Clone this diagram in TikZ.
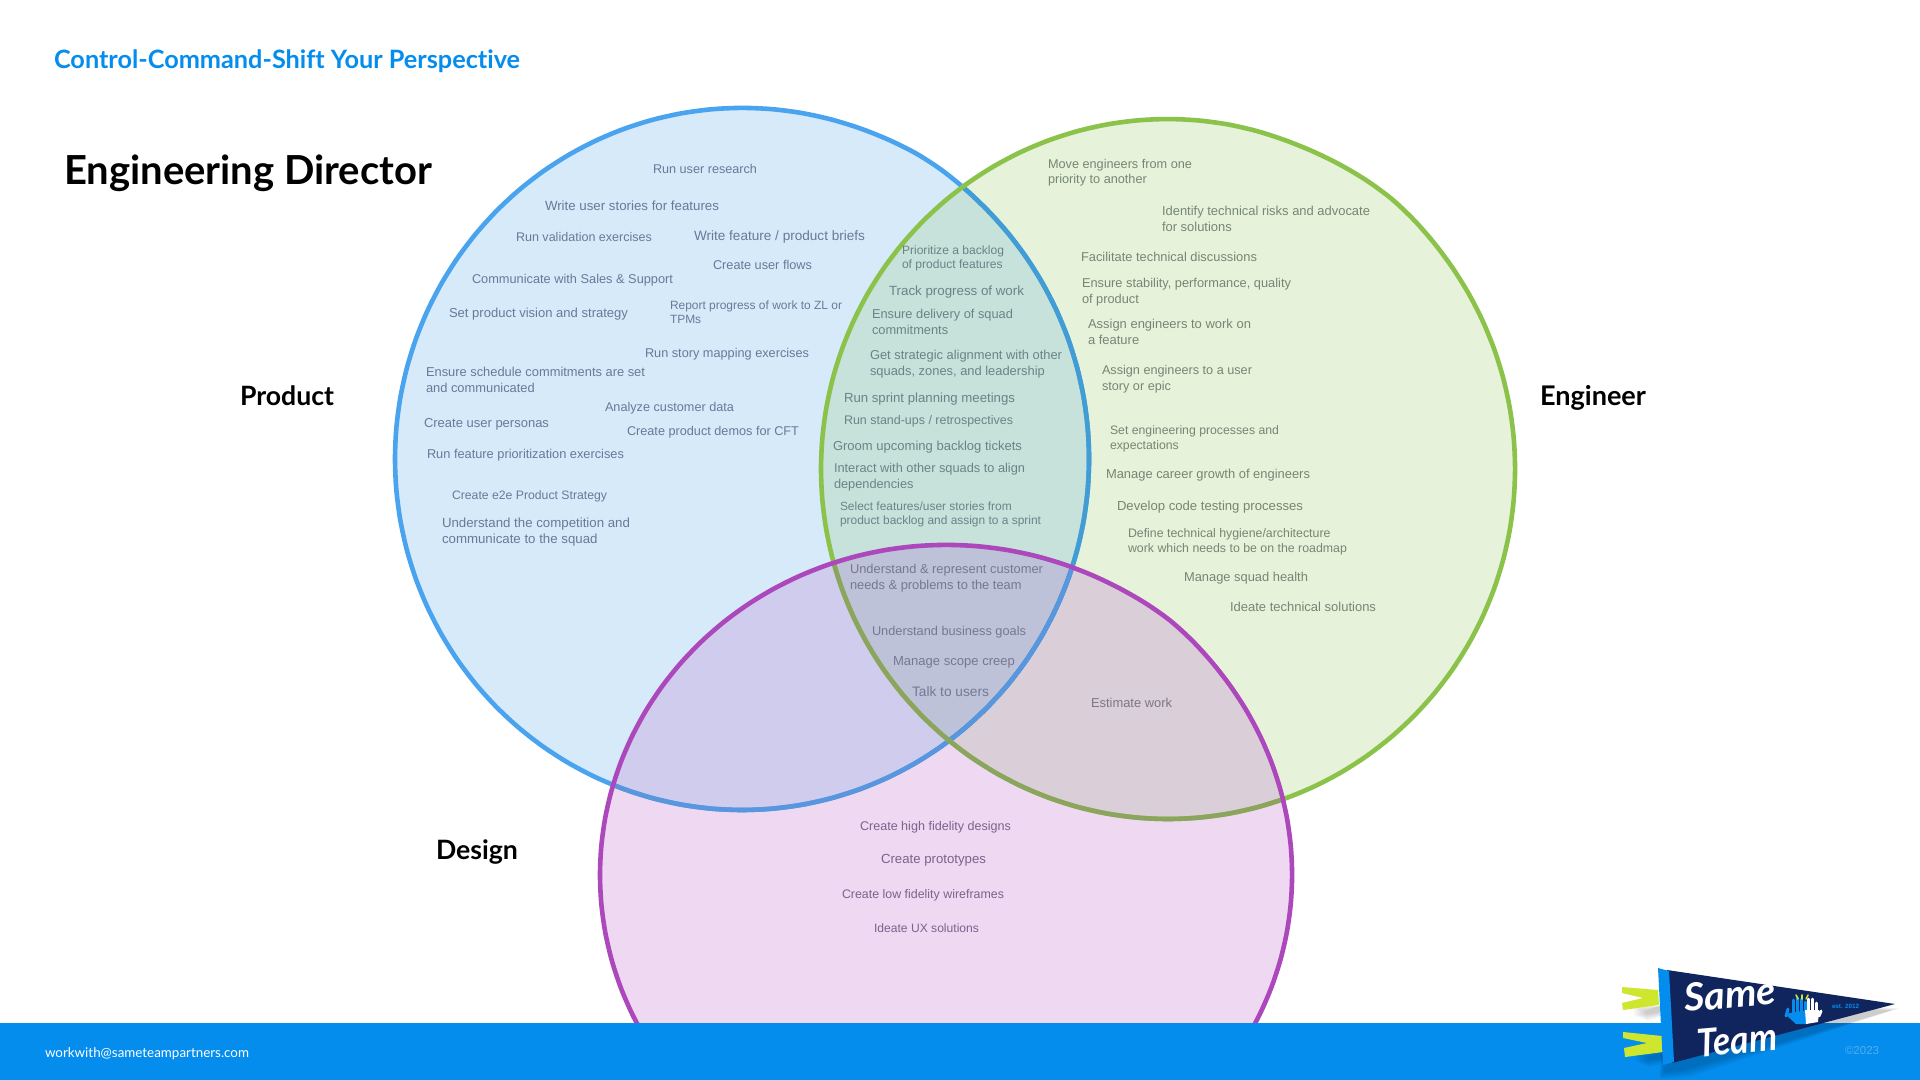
\documentclass[tikz,border=0pt]{standalone}
\usepackage{fontspec}
\usepackage{graphicx}
\setmainfont{Liberation Sans}
\newfontfamily\headfont[Ligatures=NoCommon]{Lato}
\newdimen\pxu \pxu=0.5pt
\newcommand{\fitw}[2]{\resizebox{#1\pxu}{!}{\begin{tabular}{@{}l@{}}#2\end{tabular}}}
\definecolor{bluefill}{RGB}{214,234,250}
\definecolor{greenfill}{RGB}{230,242,217}
\definecolor{purplefill}{RGB}{239,216,241}
\definecolor{bgfill}{RGB}{198,226,218}
\definecolor{bpfill}{RGB}{207,204,238}
\definecolor{gpfill}{RGB}{218,207,216}
\definecolor{corefill}{RGB}{190,194,216}
\definecolor{blueline}{RGB}{74,163,238}
\definecolor{bluegreenline}{RGB}{66,157,212}
\definecolor{bluepurpleline}{RGB}{90,150,222}
\definecolor{greenline}{RGB}{139,194,74}
\definecolor{greenpurpleline}{RGB}{140,165,94}
\definecolor{purpleline}{RGB}{172,72,188}
\definecolor{footerblue}{RGB}{5,141,238}
\definecolor{navy}{RGB}{16,36,94}
\definecolor{lime}{RGB}{207,230,46}
\definecolor{tblue}{RGB}{104,122,152}
\definecolor{tlens}{RGB}{104,132,136}
\definecolor{tcore}{RGB}{116,120,148}
\definecolor{tgreen}{RGB}{118,134,118}
\definecolor{tpurple}{RGB}{120,100,142}
\definecolor{tmix}{RGB}{124,118,132}
\pgfmathdeclarefunction{bmp}{3}{\pgfmathparse{1/(1+((#1-#2)/#3)^2)}}
\def\bluering{plot[smooth cycle,domain=-180:175,samples=72,variable=\t]
  ({742+347*cos(\t)*(1+0.005*bmp(\t,-58,8))},{459+351*sin(\t)*(1+0.005*bmp(\t,-58,8))})}
\def\greenring{plot[smooth cycle,domain=-180:175,samples=72,variable=\t]
  ({1168+347*cos(\t)*(1+0.006*bmp(\t,-50,9)-0.003*bmp(\t,-68,9))},{469+350*sin(\t)*(1+0.006*bmp(\t,-50,9)-0.003*bmp(\t,-68,9))})}
\def\purplering{plot[smooth cycle,domain=-180:175,samples=72,variable=\t]
  ({946+346*cos(\t)*(1+0.007*bmp(\t,-50,9))},{875+330*sin(\t)*(1+0.007*bmp(\t,-50,9))})}
\tikzset{
  lab/.style={anchor=west,inner sep=0pt,outer sep=0pt},
  txt/.style={lab,yshift=-0.7pt},
  inblue/.style={txt,text=tblue},
  inlens/.style={txt,text=tlens},
  incore/.style={txt,text=tcore},
  ingreen/.style={txt,text=tgreen},
  inpurple/.style={txt,text=tpurple},
  inmix/.style={txt,text=tmix},
  head/.style={lab,text=black,font=\headfont\bfseries},
  ring/.style={line width=2.3pt},
  shade/.style={fill=black,fill opacity=0.02,draw=none}
}
\begin{document}
\begin{tikzpicture}[x=0.5pt,y=-0.5pt]
\useasboundingbox (0,0) rectangle (1920,1080);
\fill[white] (0,0) rectangle (1920,1080);
% region fills
\fill[bluefill] \bluering;
\fill[greenfill] \greenring;
\fill[purplefill] \purplering;
\begin{scope}\clip \bluering; \fill[bgfill] \greenring; \end{scope}
\begin{scope}\clip \bluering; \fill[bpfill] \purplering; \end{scope}
\begin{scope}\clip \greenring; \fill[gpfill] \purplering; \end{scope}
\begin{scope}\clip \bluering; \clip \greenring; \fill[corefill] \purplering; \end{scope}
% outlines
\draw[ring,blueline] \bluering;
\begin{scope}\clip \greenring; \draw[ring,bluegreenline] \bluering; \end{scope}
\begin{scope}\clip \purplering; \draw[ring,bluepurpleline] \bluering; \end{scope}
\draw[ring,greenline] \greenring;
\begin{scope}\clip \purplering; \draw[ring,greenpurpleline] \greenring; \end{scope}
\draw[ring,purpleline] \purplering;
% footer
\fill[footerblue] (0,1023) rectangle (1920,1080);
% titles
\node[head,text=footerblue] (title) at (54,62.5) {\fitw{466}{Control-Command-Shift Your Perspective}};
\node[head] (role) at (64,175) {\fitw{368}{Engineering Director}};
\node[head] (product) at (240,399.5) {\fitw{94}{Product}};
\node[head] (engineer) at (1540,399.5) {\fitw{106}{Engineer}};
\node[head] (design) at (436,853.5) {\fitw{82}{Design}};
% product
\node[inblue] (p1) at (653,169) {\fitw{104}{Run user research}};
\node[inblue] (p2) at (545,206) {\fitw{174}{Write user stories for features}};
\node[inblue] (p3) at (516,237) {\fitw{136}{Run validation exercises}};
\node[inblue] (p4) at (694,236) {\fitw{171}{Write feature / product briefs}};
\node[inblue] (p5) at (713,265) {\fitw{99}{Create user flows}};
\node[inblue] (p6) at (472,279) {\fitw{201}{Communicate with Sales \& Support}};
\node[inblue] (p7) at (449,313) {\fitw{179}{Set product vision and strategy}};
\node[inblue] (p8) at (670,312) {\fitw{172}{Report progress of work to ZL or\\TPMs}};
\node[inblue] (p9) at (645,353) {\fitw{164}{Run story mapping exercises}};
\node[inblue] (p10) at (426,380) {\fitw{219}{Ensure schedule commitments are set\\and communicated}};
\node[inblue] (p11) at (605,407) {\fitw{129}{Analyze customer data}};
\node[inblue] (p12) at (424,423) {\fitw{125}{Create user personas}};
\node[inblue] (p13) at (627,431) {\fitw{172}{Create product demos for CFT}};
\node[inblue] (p14) at (427,454) {\fitw{197}{Run feature prioritization exercises}};
\node[inblue] (p15) at (452,495) {\fitw{155}{Create e2e Product Strategy}};
\node[inblue] (p16) at (442,531) {\fitw{188}{Understand the competition and\\communicate to the squad}};
% product and engineer
\node[inlens] (l1) at (902,257) {\fitw{102}{Prioritize a backlog\\of product features}};
\node[inlens] (l2) at (889,291) {\fitw{135}{Track progress of work}};
\node[inlens] (l3) at (872,322) {\fitw{141}{Ensure delivery of squad\\commitments}};
\node[inlens] (l4) at (870,363) {\fitw{192}{Get strategic alignment with other\\squads, zones, and leadership}};
\node[inlens] (l5) at (844,398) {\fitw{171}{Run sprint planning meetings}};
\node[inlens] (l6) at (844,420) {\fitw{169}{Run stand-ups / retrospectives}};
\node[inlens] (l7) at (833,446) {\fitw{189}{Groom upcoming backlog tickets}};
\node[inlens] (l8) at (834,476) {\fitw{191}{Interact with other squads to align\\dependencies}};
\node[inlens] (l9) at (840,513) {\fitw{201}{Select features/user stories from\\product backlog and assign to a sprint}};
% centre
\node[incore] (c1) at (850,577) {\fitw{193}{Understand \& represent customer\\needs \& problems to the team}};
\node[incore] (c2) at (872,631) {\fitw{154}{Understand business goals}};
\node[incore] (c3) at (893,661) {\fitw{122}{Manage scope creep}};
\node[incore] (c4) at (912,692) {\fitw{77}{Talk to users}};
\node[inmix] (m1) at (1091,703) {\fitw{81}{Estimate work}};
% engineer
\node[ingreen] (e1) at (1048,171.5) {\fitw{144}{Move engineers from one\\priority to another}};
\node[ingreen] (e2) at (1162,219) {\fitw{208}{Identify technical risks and advocate\\for solutions}};
\node[ingreen] (e3) at (1081,257) {\fitw{176}{Facilitate technical discussions}};
\node[ingreen] (e4) at (1082,291) {\fitw{209}{Ensure stability, performance, quality\\of product}};
\node[ingreen] (e5) at (1088,332) {\fitw{163}{Assign engineers to work on\\a feature}};
\node[ingreen] (e6) at (1102,378) {\fitw{150}{Assign engineers to a user\\story or epic}};
\node[ingreen] (e7) at (1110,438) {\fitw{169}{Set engineering processes and\\expectations}};
\node[ingreen] (e8) at (1106,474) {\fitw{204}{Manage career growth of engineers}};
\node[ingreen] (e9) at (1117,506) {\fitw{186}{Develop code testing processes}};
\node[ingreen] (e10) at (1128,541) {\fitw{219}{Define technical hygiene/architecture\\work which needs to be on the roadmap}};
\node[ingreen] (e11) at (1184,577) {\fitw{124}{Manage squad health}};
\node[ingreen] (e12) at (1230,607) {\fitw{146}{Ideate technical solutions}};
% design
\node[inpurple] (d1) at (860,826) {\fitw{151}{Create high fidelity designs}};
\node[inpurple] (d2) at (881,859) {\fitw{105}{Create prototypes}};
\node[inpurple] (d3) at (842,894) {\fitw{162}{Create low fidelity wireframes}};
\node[inpurple] (d4) at (874,928) {\fitw{105}{Ideate UX solutions}};
% footer texts
\node[lab,text=white,font=\headfont] (mail) at (45,1054) {\fitw{204}{workwith@sameteampartners.com}};
\node[lab,text=white,opacity=0.3] (copy) at (1845,1052) {\fitw{34}{©2023}};
% pennant shadow
\foreach \d in {0,...,9}{
  \fill[shade] (1664,1000) -- (1900-\d,1008+\d*0.3) -- (1682+\d,1070+\d*0.8) -- (1664-\d*0.5,1072+\d*0.8) -- cycle;
  \fill[shade] (1632+\d*1.5,1006+\d*0.6) -- (1660,1006) -- (1660,1012+\d*0.6) -- (1634+\d*1.5,1016+\d*0.6) -- cycle;
  \fill[shade] (1634+\d*1.5,1052+\d*0.6) -- (1664,1052) -- (1664,1058+\d*0.6) -- (1636+\d*1.5,1062+\d*0.6) -- cycle;
}
% ribbons
\fill[lime] (1622,987) -- (1658,990) -- (1659,1005) -- (1623,1010) -- (1622,1003) -- (1643,998) -- (1622,993) -- cycle;
\fill[lime] (1623,1032) -- (1662,1036) -- (1663,1052) -- (1625,1057) -- (1624,1048) -- (1647,1043) -- (1623,1038) -- cycle;
% pennant
\fill[navy] (1667,970) -- (1895,1004) -- (1672,1063) -- cycle;
\fill[footerblue] (1658,968) -- (1669,971) -- (1674,1062) -- (1663,1065) -- cycle;
\node[inner sep=0pt,text=white,rotate=5,font=\headfont\bfseries\itshape] (same) at (1730,994) {\resizebox{92\pxu}{28\pxu}{Same}};
\node[inner sep=0pt,text=white,rotate=5,font=\headfont\bfseries\itshape] (team) at (1737,1040) {\resizebox{80\pxu}{28\pxu}{Team}};
% hands
\begin{scope}[line cap=round,line width=1.5pt]
  \draw[footerblue] (1788,1009) -- (1786,1016);
  \draw[footerblue] (1793,1000) -- (1793,1014);
  \draw[footerblue] (1797,998) -- (1797,1014);
  \draw[footerblue] (1801,999) -- (1801,1014);
  \draw[footerblue] (1805,1002) -- (1805,1014);
  \fill[footerblue] (1785,1014) -- (1807,1010) -- (1807,1024) -- (1796,1024) -- cycle;
  \draw[white] (1808,999) -- (1808,1012);
  \draw[white] (1812,999) -- (1812,1012);
  \draw[white] (1816,1003) -- (1816,1012);
  \draw[white] (1821,1011) -- (1819,1016);
  \fill[white] (1805,1010) -- (1819,1010) -- (1818,1022) -- (1806,1024) -- cycle;
  \draw[lime,line width=0.8pt] (1796,995) -- (1798,999);
  \draw[lime,line width=0.8pt] (1802,995) -- (1802,999);
  \draw[lime,line width=0.8pt] (1808,995) -- (1806,999);
\end{scope}
\node[lab,text=footerblue,rotate=-1,font=\bfseries] (est) at (1832,1007) {\fitw{27}{est. 2012}};
\end{tikzpicture}
\end{document}
